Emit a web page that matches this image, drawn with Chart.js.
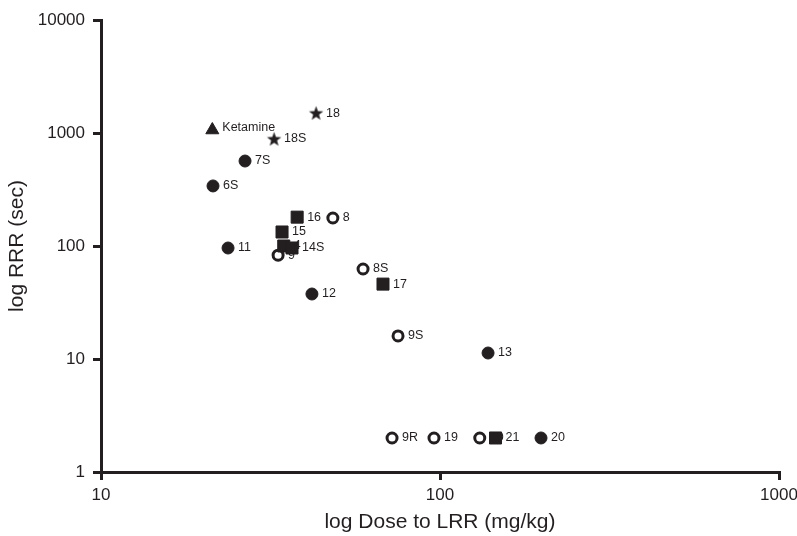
<!DOCTYPE html>
<html>
<head>
<meta charset="utf-8">
<script src="https://cdn.jsdelivr.net/npm/chart.js@4/dist/chart.umd.min.js"></script>
<style>
  html, body { margin: 0; padding: 0; background: #fff; }
  #wrap { width: 797px; height: 536px; }
</style>
</head>
<body>
<div id="wrap"><canvas id="rrrChart"></canvas></div>
<script>

const INK = "#231f20";

// tick labels
const doseTicks = [10, 100, 1000];
const rrrTicks = [1, 10, 100, 1000, 10000];

// filled squares
const squareNames = ["16", "15", "4", "14S", "17", "21"];
const squareDose  = [37.9, 34.2, 34.6, 36.6, 67.9, 145.8];
const squareRRR   = [180, 133, 100, 96, 46, 2];

// filled stars
const starNames = ["18", "18S"];
const starDose  = [43.1, 32.4];
const starRRR   = [1500, 885];

// triangle
const triNames = ["Ketamine"];
const triDose  = [21.3];
const triRRR   = [1063];

// filled circles
const dotNames = ["7S", "6S", "11", "12", "13", "20"];
const dotDose  = [26.6, 21.4, 23.7, 41.9, 138.6, 198.6];
const dotRRR   = [565, 340, 96, 37.6, 11.3, 2];

// open circles
const ringNames = ["8", "9", "8S", "9S", "9R", "19", "10"];
const ringDose  = [48.3, 33.3, 59.3, 75.2, 72.2, 96, 131];
const ringRRR   = [177, 83, 62.6, 16, 2, 2, 2];

function pts(xs, ys){
    return xs.map((x, i) => ({x: x, y: ys[i]}));
}

// filled five point star as a point image
function starImage(outer, inner){
    const size = Math.ceil(outer * 2 + 2);
    const c = document.createElement("canvas");
    c.width = size;
    c.height = size;
    const g = c.getContext("2d");
    g.fillStyle = INK;
    g.beginPath();
    for(let i = 0; i < 10; i++){
        const r = i % 2 === 0 ? outer : inner;
        const a = -Math.PI / 2 + i * Math.PI / 5;
        const px = size / 2 + r * Math.cos(a);
        const py = size / 2 + 0.6 + r * Math.sin(a);
        if(i === 0) g.moveTo(px, py); else g.lineTo(px, py);
    }
    g.closePath();
    g.fill();
    return c;
}

const pointLabels = {
    id: "pointLabels",
    afterDatasetDraw(chart, args){
        const ds = chart.data.datasets[args.index];
        const ctx = chart.ctx;
        ctx.save();
        ctx.fillStyle = INK;
        ctx.font = "12.5px 'Liberation Sans', Arial, sans-serif";
        ctx.textBaseline = "middle";
        ctx.textAlign = "left";
        args.meta.data.forEach((el, i) => {
            const dy = ds.names[i] === "Ketamine" ? -2 : 0;
            ctx.fillText(ds.names[i], el.x + 10, el.y + dy);
        });
        ctx.restore();
    }
};

const font = "'Liberation Sans', Arial, sans-serif";

new Chart(document.getElementById("rrrChart"), {

    type: "scatter",

    data: {
        datasets: [
            {
                names: squareNames,
                data: pts(squareDose, squareRRR),
                pointStyle: "rect",
                pointRadius: 8.5,
                backgroundColor: INK,
                borderColor: INK,
                borderWidth: 1
            },
            {
                names: starNames,
                data: pts(starDose, starRRR),
                pointStyle: starImage(7.5, 3.1),
                pointRadius: 7
            },
            {
                names: triNames,
                data: pts(triDose, triRRR),
                pointStyle: "triangle",
                pointRadius: 7.5,
                backgroundColor: INK,
                borderColor: INK,
                borderWidth: 1
            },
            {
                names: dotNames,
                data: pts(dotDose, dotRRR),
                pointStyle: "circle",
                pointRadius: 6,
                backgroundColor: INK,
                borderColor: INK,
                borderWidth: 1
            },
            {
                names: ringNames,
                data: pts(ringDose, ringRRR),
                pointStyle: "circle",
                pointRadius: 5,
                backgroundColor: "#ffffff",
                borderColor: INK,
                borderWidth: 3
            }
        ]
    },

    options: {

        responsive: true,
        maintainAspectRatio: false,
        animation: false,
        events: [],

        layout: {
            padding: {top: 20, right: 18, left: 0, bottom: 0}
        },

        plugins: {
            legend: {display: false},
            tooltip: {enabled: false}
        },

        scales: {

            x: {
                type: "logarithmic",
                min: 10,
                max: 1000,
                afterBuildTicks: scale => { scale.ticks = doseTicks.map(v => ({value: v})); },
                afterFit: scale => {
                    scale.height = 64;
                    scale.paddingRight = 0;
                },
                grid: {drawOnChartArea: false, color: INK, lineWidth: 3, tickLength: 8},
                border: {display: true, color: INK, width: 3},
                ticks: {
                    color: INK,
                    font: {family: font, size: 17},
                    padding: 5,
                    maxRotation: 0,
                    callback: v => String(v)
                },
                title: {
                    display: true,
                    text: "log Dose to LRR (mg/kg)",
                    color: INK,
                    font: {family: font, size: 21},
                    padding: {top: 0, bottom: 1}
                }
            },

            y: {
                type: "logarithmic",
                min: 1,
                max: 10000,
                afterBuildTicks: scale => { scale.ticks = rrrTicks.map(v => ({value: v})); },
                afterFit: scale => { scale.width = 101; },
                grid: {drawOnChartArea: false, color: INK, lineWidth: 3, tickLength: 8},
                border: {display: true, color: INK, width: 3},
                ticks: {
                    color: INK,
                    font: {family: font, size: 17},
                    padding: 8,
                    callback: v => String(v)
                },
                title: {
                    display: true,
                    text: "log RRR (sec)",
                    color: INK,
                    font: {family: font, size: 21},
                    padding: {top: 5, bottom: 4}
                }
            }
        }
    },

    plugins: [pointLabels]

});

</script>
</body>
</html>
